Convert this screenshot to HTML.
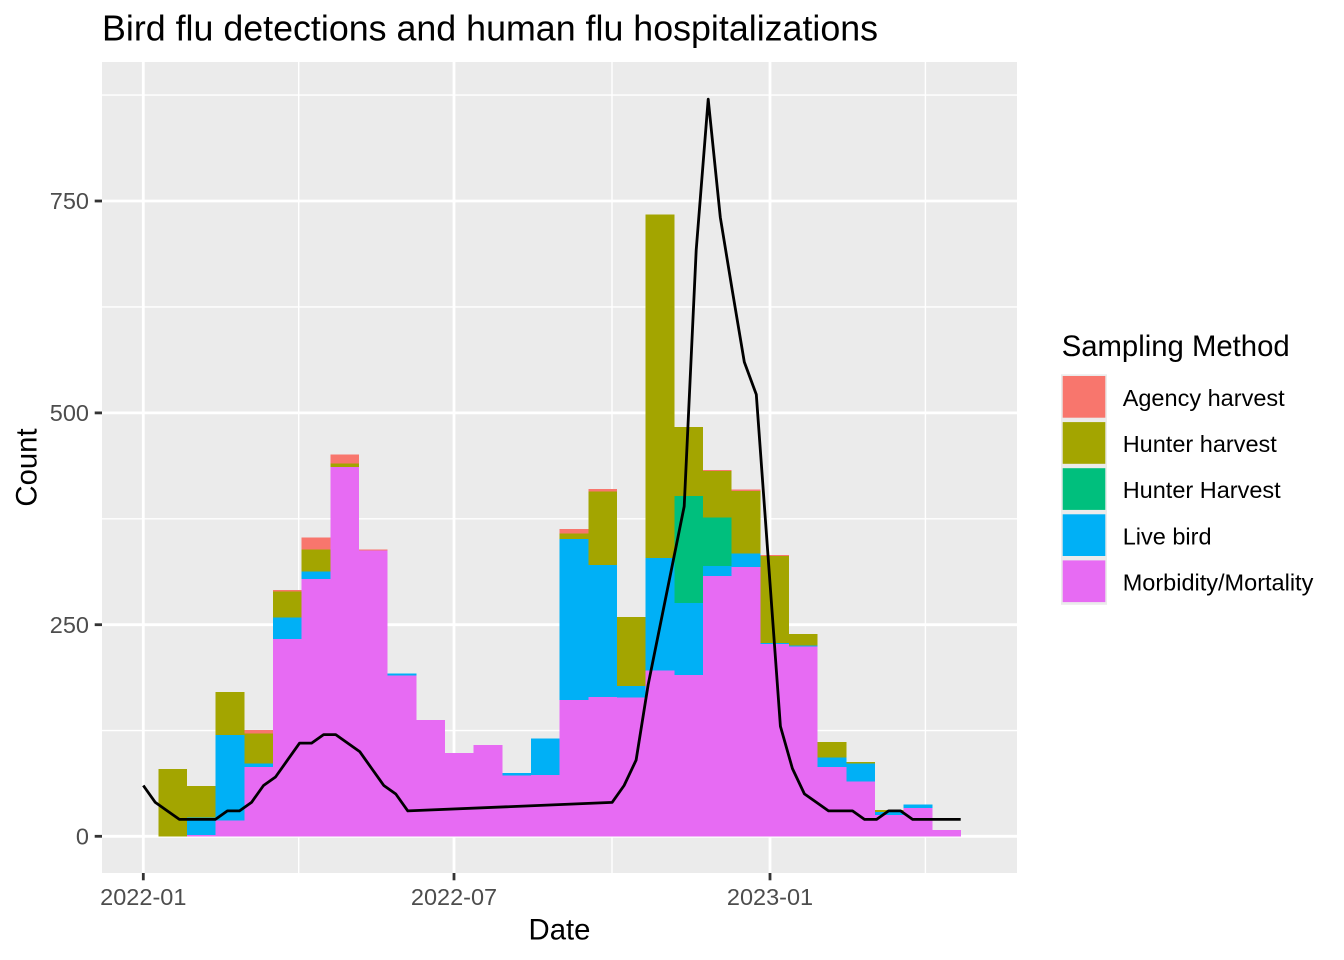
<!DOCTYPE html>
<html>
<head>
<meta charset="utf-8">
<style>
  html, body { margin:0; padding:0; background:#ffffff; }
  svg { display:block; }
  text { font-family: "Liberation Sans", Arial, sans-serif; }
</style>
</head>
<body>
<svg width="1344" height="960" viewBox="0 0 1344 960" xmlns="http://www.w3.org/2000/svg">
  <rect x="0" y="0" width="1344" height="960" fill="#ffffff"/>
  <!-- panel -->
  <rect x="102" y="62" width="915" height="811" fill="#ebebeb"/>
  <!-- minor grid -->
  <g stroke="#ffffff" stroke-width="1.4">
    <line x1="102" x2="1017" y1="95.1" y2="95.1"/>
    <line x1="102" x2="1017" y1="306.9" y2="306.9"/>
    <line x1="102" x2="1017" y1="518.8" y2="518.8"/>
    <line x1="102" x2="1017" y1="730.6" y2="730.6"/>
    <line y1="62" y2="873" x1="298.7" x2="298.7"/>
    <line y1="62" y2="873" x1="612" x2="612"/>
    <line y1="62" y2="873" x1="925.4" x2="925.4"/>
  </g>
  <!-- major grid -->
  <g stroke="#ffffff" stroke-width="2.8">
    <line x1="102" x2="1017" y1="201.0" y2="201.0"/>
    <line x1="102" x2="1017" y1="412.9" y2="412.9"/>
    <line x1="102" x2="1017" y1="624.7" y2="624.7"/>
    <line x1="102" x2="1017" y1="836.3" y2="836.3"/>
    <line y1="62" y2="873" x1="143.3" x2="143.3"/>
    <line y1="62" y2="873" x1="454" x2="454"/>
    <line y1="62" y2="873" x1="770" x2="770"/>
  </g>

  <!-- bars -->
  <g shape-rendering="crispEdges">
    <!-- i0 -->
    <rect x="158.3" width="28.7" y="769" height="67.3" fill="#A3A500"/>
    <!-- i1 -->
    <rect x="187.0" width="28.7" y="786" height="31.7" fill="#A3A500"/>
    <rect x="187.0" width="28.7" y="817.7" height="17.3" fill="#00B0F6"/>
    <rect x="187.0" width="28.7" y="835" height="1.3" fill="#E76BF3"/>
    <!-- i2 -->
    <rect x="215.6" width="28.7" y="692" height="43" fill="#A3A500"/>
    <rect x="215.6" width="28.7" y="735" height="85.7" fill="#00B0F6"/>
    <rect x="215.6" width="28.7" y="820.7" height="15.6" fill="#E76BF3"/>
    <!-- i3 -->
    <rect x="244.3" width="28.7" y="730" height="3.3" fill="#F8766D"/>
    <rect x="244.3" width="28.7" y="733.3" height="30.4" fill="#A3A500"/>
    <rect x="244.3" width="28.7" y="763.7" height="3.3" fill="#00B0F6"/>
    <rect x="244.3" width="28.7" y="767" height="69.3" fill="#E76BF3"/>
    <!-- i4 -->
    <rect x="273.0" width="28.7" y="590" height="1.3" fill="#F8766D"/>
    <rect x="273.0" width="28.7" y="591.3" height="26.4" fill="#A3A500"/>
    <rect x="273.0" width="28.7" y="617.7" height="21.3" fill="#00B0F6"/>
    <rect x="273.0" width="28.7" y="639" height="197.3" fill="#E76BF3"/>
    <!-- i5 -->
    <rect x="301.6" width="28.7" y="537.7" height="12" fill="#F8766D"/>
    <rect x="301.6" width="28.7" y="549.7" height="22" fill="#A3A500"/>
    <rect x="301.6" width="28.7" y="571.7" height="7.3" fill="#00B0F6"/>
    <rect x="301.6" width="28.7" y="579" height="257.3" fill="#E76BF3"/>
    <!-- i6 -->
    <rect x="330.3" width="28.7" y="454.7" height="9" fill="#F8766D"/>
    <rect x="330.3" width="28.7" y="463.7" height="3.3" fill="#A3A500"/>
    <rect x="330.3" width="28.7" y="467" height="369.3" fill="#E76BF3"/>
    <!-- i7 -->
    <rect x="359.0" width="28.7" y="549.7" height="1" fill="#F8766D"/>
    <rect x="359.0" width="28.7" y="550.7" height="285.6" fill="#E76BF3"/>
    <!-- i8 -->
    <rect x="387.7" width="28.7" y="673.7" height="2" fill="#00B0F6"/>
    <rect x="387.7" width="28.7" y="675.7" height="160.6" fill="#E76BF3"/>
    <!-- i9 -->
    <rect x="416.3" width="28.7" y="720" height="116.3" fill="#E76BF3"/>
    <!-- i10 -->
    <rect x="445.0" width="28.7" y="753" height="83.3" fill="#E76BF3"/>
    <!-- i11 -->
    <rect x="473.7" width="28.7" y="745" height="91.3" fill="#E76BF3"/>
    <!-- i12 -->
    <rect x="502.3" width="28.7" y="773" height="2.7" fill="#00B0F6"/>
    <rect x="502.3" width="28.7" y="775.7" height="60.6" fill="#E76BF3"/>
    <!-- i13 -->
    <rect x="531.0" width="28.7" y="738.7" height="36.3" fill="#00B0F6"/>
    <rect x="531.0" width="28.7" y="775" height="61.3" fill="#E76BF3"/>
    <!-- i14 -->
    <rect x="559.7" width="28.7" y="529" height="4.7" fill="#F8766D"/>
    <rect x="559.7" width="28.7" y="533.7" height="5.3" fill="#A3A500"/>
    <rect x="559.7" width="28.7" y="539" height="161" fill="#00B0F6"/>
    <rect x="559.7" width="28.7" y="700" height="136.3" fill="#E76BF3"/>
    <!-- i15 -->
    <rect x="588.3" width="28.7" y="489" height="2.3" fill="#F8766D"/>
    <rect x="588.3" width="28.7" y="491.3" height="73.7" fill="#A3A500"/>
    <rect x="588.3" width="28.7" y="565" height="132" fill="#00B0F6"/>
    <rect x="588.3" width="28.7" y="697" height="139.3" fill="#E76BF3"/>
    <!-- i16 -->
    <rect x="617.0" width="28.7" y="617" height="69" fill="#A3A500"/>
    <rect x="617.0" width="28.7" y="686" height="11.7" fill="#00B0F6"/>
    <rect x="617.0" width="28.7" y="697.7" height="138.6" fill="#E76BF3"/>
    <!-- i17 -->
    <rect x="645.7" width="28.7" y="214.5" height="343.3" fill="#A3A500"/>
    <rect x="645.7" width="28.7" y="557.8" height="112.7" fill="#00B0F6"/>
    <rect x="645.7" width="28.7" y="670.5" height="165.8" fill="#E76BF3"/>
    <!-- i18 -->
    <rect x="674.3" width="28.7" y="427" height="69" fill="#A3A500"/>
    <rect x="674.3" width="28.7" y="496" height="107" fill="#00BF7D"/>
    <rect x="674.3" width="28.7" y="603" height="72" fill="#00B0F6"/>
    <rect x="674.3" width="28.7" y="675" height="161.3" fill="#E76BF3"/>
    <!-- i19 -->
    <rect x="703.0" width="28.7" y="470" height="1" fill="#F8766D"/>
    <rect x="703.0" width="28.7" y="471" height="46.7" fill="#A3A500"/>
    <rect x="703.0" width="28.7" y="517.7" height="48.3" fill="#00BF7D"/>
    <rect x="703.0" width="28.7" y="566" height="10" fill="#00B0F6"/>
    <rect x="703.0" width="28.7" y="576" height="260.3" fill="#E76BF3"/>
    <!-- i20 -->
    <rect x="731.7" width="28.7" y="489.4" height="1.6" fill="#F8766D"/>
    <rect x="731.7" width="28.7" y="491" height="62.3" fill="#A3A500"/>
    <rect x="731.7" width="28.7" y="553.3" height="13.7" fill="#00B0F6"/>
    <rect x="731.7" width="28.7" y="567" height="269.3" fill="#E76BF3"/>
    <!-- i21 -->
    <rect x="760.3" width="28.7" y="555" height="0.8" fill="#F8766D"/>
    <rect x="760.3" width="28.7" y="555.8" height="87.2" fill="#A3A500"/>
    <rect x="760.3" width="28.7" y="643" height="0.8" fill="#00B0F6"/>
    <rect x="760.3" width="28.7" y="643.8" height="192.5" fill="#E76BF3"/>
    <!-- i22 -->
    <rect x="789.0" width="28.7" y="634" height="11.3" fill="#A3A500"/>
    <rect x="789.0" width="28.7" y="645.3" height="1.4" fill="#00B0F6"/>
    <rect x="789.0" width="28.7" y="646.7" height="189.6" fill="#E76BF3"/>
    <!-- i23 -->
    <rect x="817.7" width="28.7" y="742" height="15.7" fill="#A3A500"/>
    <rect x="817.7" width="28.7" y="757.7" height="9.3" fill="#00B0F6"/>
    <rect x="817.7" width="28.7" y="767" height="69.3" fill="#E76BF3"/>
    <!-- i24 -->
    <rect x="846.3" width="28.7" y="762" height="1.3" fill="#A3A500"/>
    <rect x="846.3" width="28.7" y="763.3" height="18.4" fill="#00B0F6"/>
    <rect x="846.3" width="28.7" y="781.7" height="54.6" fill="#E76BF3"/>
    <!-- i25 -->
    <rect x="875.0" width="28.7" y="810" height="2" fill="#A3A500"/>
    <rect x="875.0" width="28.7" y="812" height="3" fill="#00B0F6"/>
    <rect x="875.0" width="28.7" y="815" height="21.3" fill="#E76BF3"/>
    <!-- i26 -->
    <rect x="903.7" width="28.7" y="804.7" height="3.3" fill="#00B0F6"/>
    <rect x="903.7" width="28.7" y="808" height="28.3" fill="#E76BF3"/>
    <!-- i27 -->
    <rect x="932.3" width="28.7" y="830" height="6.3" fill="#E76BF3"/>
  </g>

  <!-- line -->
  <polyline fill="none" stroke="#000000" stroke-width="2.8" stroke-linejoin="round" stroke-linecap="butt"
    points="143.3,785.5 155.3,802.4 167.3,810.9 179.4,819.4 191.4,819.4 203.4,819.4 215.4,819.4 227.4,810.9 239.5,810.9 251.5,802.4 263.5,785.5 275.5,777.0 287.5,760.1 299.6,743.1 311.6,743.1 323.6,734.6 335.7,734.6 347.7,743.1 359.7,751.6 371.7,768.5 383.8,785.5 395.8,794.0 407.8,810.9 612.1,802.4 624.1,785.5 636.1,760.1 648.1,685.0 684.2,506.3 696.2,250.0 708.2,99.2 720.3,217.3 732.3,290.5 744.3,362.0 756.3,394.5 780.4,726.2 792.4,768.5 804.4,793.9 816.5,802.4 828.5,810.9 840.5,810.9 852.5,810.9 864.5,819.4 876.6,819.4 888.6,810.9 900.6,810.9 912.6,819.4 924.7,819.4 936.7,819.4 948.7,819.4 960.7,819.4"/>

  <!-- axis ticks -->
  <g stroke="#333333" stroke-width="2.8">
    <line x1="94.7" x2="102" y1="201.0" y2="201.0"/>
    <line x1="94.7" x2="102" y1="412.9" y2="412.9"/>
    <line x1="94.7" x2="102" y1="624.7" y2="624.7"/>
    <line x1="94.7" x2="102" y1="836.3" y2="836.3"/>
    <line y1="873" y2="880.3" x1="143.3" x2="143.3"/>
    <line y1="873" y2="880.3" x1="454" x2="454"/>
    <line y1="873" y2="880.3" x1="770" x2="770"/>
  </g>

  <!-- y tick labels -->
  <g font-size="23.5" fill="#4d4d4d" text-anchor="end">
    <text x="89" y="209.2">750</text>
    <text x="89" y="421.1">500</text>
    <text x="89" y="632.9">250</text>
    <text x="89" y="844.5">0</text>
  </g>
  <!-- x tick labels -->
  <g font-size="23.5" fill="#4d4d4d" text-anchor="middle">
    <text x="143.3" y="905">2022-01</text>
    <text x="454" y="905">2022-07</text>
    <text x="770" y="905">2023-01</text>
  </g>

  <!-- axis titles -->
  <text x="559.5" y="939.3" font-size="29.3" fill="#000000" text-anchor="middle">Date</text>
  <text transform="translate(36.5,467.5) rotate(-90)" font-size="29.3" fill="#000000" text-anchor="middle">Count</text>

  <!-- title -->
  <text x="102" y="40.7" font-size="35.8" fill="#000000">Bird flu detections and human flu hospitalizations</text>

  <!-- legend -->
  <text x="1061.7" y="356" font-size="29.3" fill="#000000">Sampling Method</text>
  <rect x="1061" y="374.3" width="46" height="230.5" fill="#ebebeb"/>
  <rect x="1062.7" y="376" width="42.6" height="41.7" fill="#F8766D"/>
  <rect x="1062.7" y="422.1" width="42.6" height="41.7" fill="#A3A500"/>
  <rect x="1062.7" y="468.2" width="42.6" height="41.7" fill="#00BF7D"/>
  <rect x="1062.7" y="514.3" width="42.6" height="41.7" fill="#00B0F6"/>
  <rect x="1062.7" y="560.4" width="42.6" height="41.7" fill="#E76BF3"/>
  <g font-size="23.5" fill="#000000">
    <text x="1122.7" y="406">Agency harvest</text>
    <text x="1122.7" y="452.1">Hunter harvest</text>
    <text x="1122.7" y="498.2">Hunter Harvest</text>
    <text x="1122.7" y="544.3">Live bird</text>
    <text x="1122.7" y="590.4">Morbidity/Mortality</text>
  </g>
</svg>
</body>
</html>
